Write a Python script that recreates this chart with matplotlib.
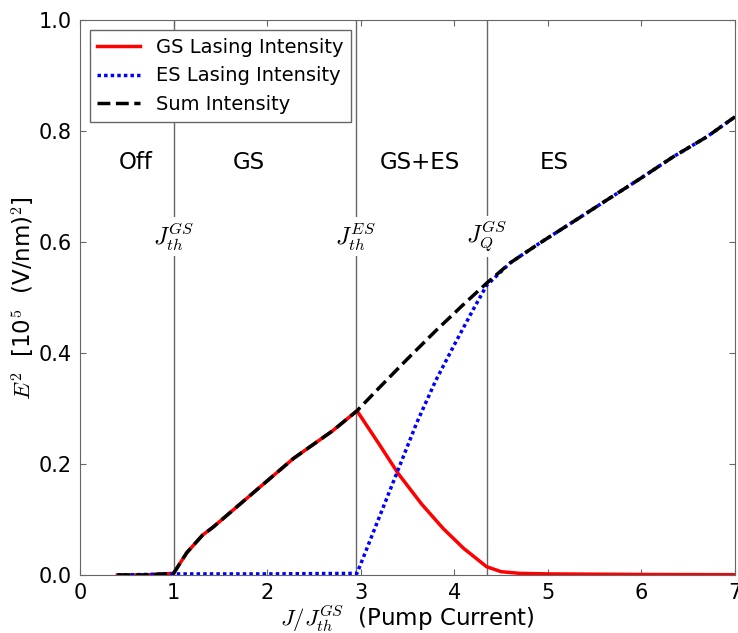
import numpy as np
import matplotlib
matplotlib.use('Agg')
import matplotlib.pyplot as plt

# ---------------------------------------------------------------------------
# data

# GS lasing intensity (red)
x_gs = [0.4, 0.7, 1.0, 1.14, 1.31, 1.42, 1.85, 2.28, 2.70, 2.96,
        3.2, 3.4, 3.65, 3.88, 4.1, 4.345, 4.5, 4.7, 5.0, 6.0, 7.0]
y_gs = [0.0, 0.0, 0.003, 0.04, 0.072, 0.086, 0.148, 0.21, 0.26, 0.296,
        0.235, 0.183, 0.128, 0.084, 0.048, 0.015, 0.006, 0.003, 0.002, 0.001, 0.0005]

# ES lasing intensity (blue)
x_es = [0.4, 1.0, 2.0, 2.96, 3.2, 3.4, 3.6, 3.8, 4.0, 4.2, 4.345,
        4.6, 4.91, 5.3, 5.63, 6.0, 6.34, 6.7, 7.0]
y_es = [0.0, 0.002, 0.002, 0.003, 0.105, 0.19, 0.275, 0.35, 0.415, 0.478, 0.522,
        0.563, 0.598, 0.64, 0.676, 0.716, 0.754, 0.79, 0.826]

# sum intensity (black)
x_sum = [0.4, 0.7, 1.0, 1.14, 1.31, 1.42, 1.85, 2.28, 2.70, 2.96, 3.2, 3.49,
         3.8, 4.1, 4.345, 4.6, 4.91, 5.3, 5.63, 6.0, 6.34, 6.7, 7.0]
y_sum = [0.0, 0.0, 0.003, 0.04, 0.072, 0.086, 0.148, 0.21, 0.26, 0.296, 0.338, 0.388,
         0.44, 0.488, 0.526, 0.563, 0.598, 0.64, 0.676, 0.716, 0.754, 0.79, 0.826]

# threshold positions and labels
x_thr = [1.0, 2.945, 4.345]
thr_labels = [r'$J_{th}^{GS}$', r'$J_{th}^{ES}$', r'$J_{Q}^{GS}$']

# regime labels
regime_x = [0.59, 1.8, 3.63, 5.07]
regime_labels = ['Off', 'GS', 'GS+ES', 'ES']

# ---------------------------------------------------------------------------

plt.rcParams['mathtext.fontset'] = 'cm'
plt.rcParams['font.family'] = 'DejaVu Sans'

fig = plt.figure(figsize=(7.38, 6.33), dpi=100)
ax = fig.add_axes([0.1084, 0.0916, 0.8876, 0.8764])

# vertical threshold lines
for xv in x_thr:
    ax.axvline(xv, color='0.4', lw=1.0, zorder=1)

ax.plot(x_gs, y_gs, color='red', lw=2.5, label='GS Lasing Intensity', zorder=3)
ax.plot(x_es, y_es, color='blue', lw=2.5, dashes=(1.0, 0.9),
        label='ES Lasing Intensity', zorder=4)
ax.plot(x_sum, y_sum, color='black', lw=2.5, dashes=(3.7, 1.6),
        label='Sum Intensity', zorder=5)

for xv, lab in zip(x_thr, thr_labels):
    ax.text(xv, 0.61, lab, ha='center', va='center', fontsize=17, zorder=2,
            bbox=dict(facecolor='white', edgecolor='none', pad=2))

for xr, lab in zip(regime_x, regime_labels):
    ax.text(xr, 0.744, lab, ha='center', va='center', fontsize=16.5)

ax.set_xlim(0, 7)
ax.set_ylim(0, 1.0)
ax.set_xticks(np.arange(0, 8, 1))
ax.set_yticks(np.arange(0, 1.01, 0.2))
ax.tick_params(direction='in', top=True, right=True, labelsize=15, length=4,
               color='0.4', pad=6)
for sp in ax.spines.values():
    sp.set_color('0.4')

ax.set_xlabel(r'$J/J_{th}^{GS}$  (Pump Current)', fontsize=16.5, labelpad=0)
ax.set_ylabel(r'$E^2$  [10$^5$  (V/nm)$^2$]', fontsize=16.5, labelpad=2)

leg = ax.legend(loc='upper left', fontsize=14, fancybox=False, framealpha=1,
                handlelength=2.2, borderaxespad=0.5)
leg.get_frame().set_edgecolor('0.4')

fig.savefig('out.png', dpi=100)
